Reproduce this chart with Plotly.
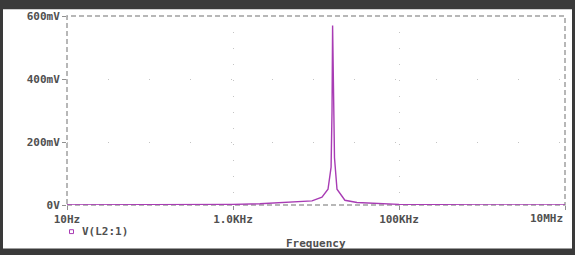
import plotly.graph_objects as go

# Frequency (Hz) and V(L2:1) (V)
freq = [10, 100, 1000, 2110, 4870, 8950, 11800, 13950, 15200, 15600, 15850,
        16200, 16700, 17900, 22300, 31200, 59000, 100000, 1000000, 10000000]
volts = [0.0, 0.0005, 0.002, 0.004, 0.008, 0.013, 0.025, 0.05, 0.12, 0.30, 0.57,
         0.42, 0.15, 0.05, 0.015, 0.008, 0.004, 0.002, 0.0005, 0.0]

x_tickvals = [10, 1000, 100000, 10000000]
x_ticktext = ["10Hz", "1.0KHz", "100KHz", "10MHz"]
y_tickvals = [0, 0.2, 0.4, 0.6]
y_ticktext = ["0V", "200mV", "400mV", "600mV"]
series_name = "V(L2:1)"
x_title = "Frequency"

W, H = 575, 255
ML, MR, MT, MB = 67, 10, 10, 50
PW, PH = W - ML - MR, H - MT - MB


def px(x):
    return (x - ML) / PW


def py(y):
    return (H - MB - y) / PH


font = dict(family="DejaVu Sans Mono", size=11, color="#505050", weight="bold")
trace_color = "#a83cb4"

fig = go.Figure()
fig.add_trace(go.Scatter(x=freq, y=volts, mode="lines",
                         line=dict(color=trace_color, width=1.4),
                         name=series_name, showlegend=False))

shapes = [
    # outer dark frame (white inner area)
    dict(type="rect", xref="paper", yref="paper", x0=px(3), x1=px(572),
         y0=py(250), y1=py(3), fillcolor="white", line=dict(width=0), layer="below"),
    # dashed plot border
    dict(type="rect", xref="x domain", yref="y domain", x0=0, x1=1, y0=0, y1=1,
         line=dict(color="#a0a0a0", width=1.5, dash="5px,3px"), layer="below"),
    # legend symbol
    dict(type="rect", xref="paper", yref="paper", x0=px(69.5), x1=px(73.5),
         y0=py(234.5), y1=py(230.5), line=dict(color=trace_color, width=1),
         fillcolor="white"),
]

# last x tick label is right-aligned to the plot edge, as in the reference
shown_ticktext = x_ticktext[:-1] + [""]

annotations = [
    dict(text=x_ticktext[-1], xref="paper", yref="paper", x=1.0, y=py(219),
         xanchor="right", yanchor="middle", showarrow=False, font=font),
    dict(text=series_name, xref="paper", yref="paper", x=px(80), y=py(232.5),
         xanchor="left", yanchor="middle", showarrow=False, font=font),
    dict(text=x_title, xref="paper", yref="paper", x=0.5, y=py(245),
         xanchor="center", yanchor="middle", showarrow=False, font=font),
]

fig.update_layout(
    width=W, height=H,
    margin=dict(l=ML, r=MR, t=MT, b=MB),
    paper_bgcolor="#3a3a3a",
    plot_bgcolor="rgba(0,0,0,0)",
    shapes=shapes,
    annotations=annotations,
    font=font,
    xaxis=dict(type="log", range=[1, 7], tickvals=x_tickvals, ticktext=shown_ticktext,
               showgrid=True, gridcolor="#c4c4c4", griddash="1px,15px", gridwidth=1,
               ticks="outside", ticklen=4, tickcolor="#909090", showline=False,
               zeroline=False, tickfont=font),
    yaxis=dict(range=[0, 0.6], tickvals=y_tickvals, ticktext=y_ticktext,
               showgrid=True, gridcolor="#c4c4c4", griddash="1px,40px", gridwidth=1,
               ticks="outside", ticklen=4, tickcolor="#909090", showline=False,
               zeroline=False, tickfont=font),
)

fig.write_html("out.html")
